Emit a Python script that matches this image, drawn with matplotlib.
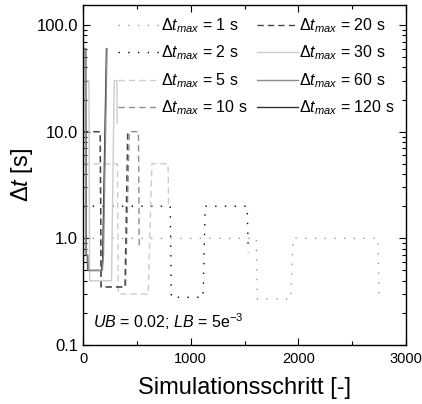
import numpy as np
import matplotlib
matplotlib.use("Agg")
import matplotlib.pyplot as plt
from matplotlib.ticker import FixedLocator, FuncFormatter, LogLocator, NullFormatter

plt.rcParams['font.family'] = ['Liberation Sans', 'DejaVu Sans']
plt.rcParams['mathtext.fontset'] = 'custom'
plt.rcParams['mathtext.rm'] = 'Liberation Sans'
plt.rcParams['mathtext.it'] = 'Liberation Sans:italic'

# Zeitschrittverlaeufe
x_1 = [0, 1610, 1620, 1930, 1950, 2740, 2750]
y_1 = [1, 1, 0.27, 0.27, 1, 1, 0.3]

x_2 = [0, 810, 820, 1115, 1135, 1525, 1535]
y_2 = [2, 2, 0.28, 0.28, 2, 2, 0.74]

x_5 = [0, 320, 328, 605, 640, 790, 795]
y_5 = [5, 5, 0.3, 0.3, 5, 5, 2.0]

x_10 = [0, 160, 168, 395, 430, 515, 522]
y_10 = [10, 10, 0.35, 0.35, 10, 10, 0.8]

x_20 = [0, 160, 168, 390, 415, 430]
y_20 = [10, 10, 0.35, 0.35, 10, 10]

x_30 = [0, 55, 62, 265, 290, 315, 318]
y_30 = [30, 30, 0.4, 0.4, 30, 30, 12]

x_60 = [0, 20, 28, 45, 50, 180, 190, 223]
y_60 = [60, 60, 0.7, 0.7, 0.5, 0.5, 0.7, 60]

x_120 = [0, 25, 30, 40, 45, 172, 182, 218]
y_120 = [60, 60, 0.7, 0.7, 0.5, 0.5, 0.6, 60]

fig = plt.figure(figsize=(4.22, 4.04), dpi=100)
ax = fig.add_axes([83/422, 1-345/404, 323/422, 340/404])

dot = (0, (1, 6))
dash = (0, (4.5, 3))
ax.plot(x_1, y_1, color='#999999', lw=1.0, ls=dot, label=r'$\Delta t_{max}$ = 1 s')
ax.plot(x_2, y_2, color='black', lw=1.0, ls=dot, label=r'$\Delta t_{max}$ = 2 s')
ax.plot(x_5, y_5, color='#cccccc', lw=1.0, ls=dash, label=r'$\Delta t_{max}$ = 5 s')
ax.plot(x_10, y_10, color='#8c8c8c', lw=1.0, ls=dash, label=r'$\Delta t_{max}$ = 10 s')
ax.plot(x_20, y_20, color='#444444', lw=1.0, ls=dash, label=r'$\Delta t_{max}$ = 20 s')
ax.plot(x_30, y_30, color='#cccccc', lw=1.0, label=r'$\Delta t_{max}$ = 30 s')
ax.plot(x_120, y_120, color='#333333', lw=1.0)
ax.plot(x_60, y_60, color='#8c8c8c', lw=1.0, label=r'$\Delta t_{max}$ = 60 s')
# nur fuer die Legendenreihenfolge
ax.plot([], [], color='#333333', lw=1.0, label=r'$\Delta t_{max}$ = 120 s')

ax.set_yscale('log')
ax.set_xlim(0, 3000)
ax.set_ylim(0.1, 154)

ax.xaxis.set_major_locator(FixedLocator([0, 1000, 2000, 3000]))
ax.xaxis.set_minor_locator(FixedLocator([500, 1500, 2500]))
ax.yaxis.set_major_locator(FixedLocator([0.1, 1, 10, 100]))
ax.yaxis.set_minor_locator(LogLocator(base=10, subs=np.arange(2, 10)))
ax.yaxis.set_major_formatter(FuncFormatter(lambda v, p: '%.1f' % v))
ax.yaxis.set_minor_formatter(NullFormatter())

ax.tick_params(which='both', direction='in', top=True, right=True)
ax.tick_params(axis='y', labelsize=12)
ax.tick_params(axis='x', labelsize=10.5, pad=5)
ax.tick_params(which='major', length=5, width=0.8)
ax.tick_params(which='minor', length=3, width=0.8)
for s in ax.spines.values():
    s.set_linewidth(1.0)

ax.set_xlabel('Simulationsschritt [-]', fontsize=17, labelpad=8)
ax.set_ylabel(r'$\Delta t$ [s]', fontsize=17, labelpad=1)

ax.text(0.031, 0.068, r'$UB$ = 0.02; $LB$ = 5e$^{-3}$', transform=ax.transAxes,
        fontsize=11.5, va='center', ha='left')

ax.legend(ncol=2, loc='upper right', bbox_to_anchor=(1.0, 1.0), frameon=False,
          fontsize=11.5, handlelength=2.55, handletextpad=0.1, columnspacing=0.6,
          labelspacing=0.55, borderaxespad=0.5, borderpad=0.2)

fig.savefig('out.png', dpi=100)
